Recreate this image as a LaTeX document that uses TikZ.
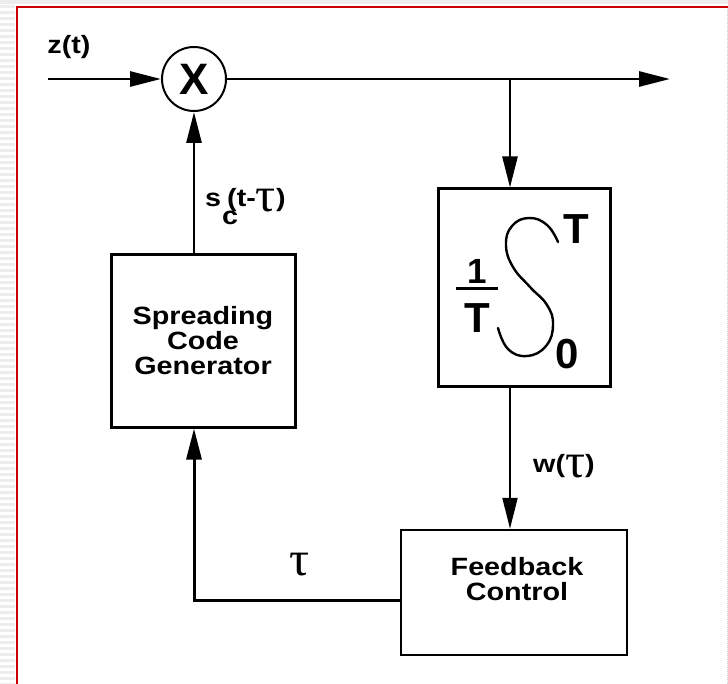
\documentclass[tikz,border=0pt]{standalone}
\usepackage{fontspec}
\setmainfont{Liberation Sans}[FakeStretch=1.15]
\newfontfamily\plainsans{Liberation Sans}
\newfontfamily\grk{Liberation Serif}
\usetikzlibrary{arrows.meta}
\newcommand\mytau{\raisebox{-5pt}{\scalebox{2.0}[1.95]{\mdseries\grk τ}}}
\begin{document}
\begin{tikzpicture}[x=1pt,y=-1pt,
  lbl/.style={font=\bfseries\fontsize{25}{25}\selectfont, inner sep=0pt},
  intf/.style={font=\plainsans\bfseries\fontsize{#1}{#1}\selectfont, inner sep=0pt},
  box/.style={draw, line width=3pt, inner sep=0pt},
  tip/.style={-{Triangle[length=31pt,width=15pt]}},
]
\useasboundingbox (0,0) rectangle (728,684);
% page decoration
\fill[black!7] (0,0) rectangle (728,4);
\foreach \k in {0,...,113} \fill[black!7] (0,{\k*6+5}) rectangle (15,{\k*6+8});
\draw[black!20, densely dotted, line width=1pt] (727,9) -- (727,684);
\draw[red!80!black, line width=2pt] (16.5,684) -- (16.5,7.5) -- (728,7.5);

% blocks
\node[circle, draw, line width=2pt, minimum size=64pt, inner sep=0pt, intf=44] (mul) at (194,79) {X};
\node[box, lbl, minimum width=184pt, minimum height=172pt, align=center] (scg) at (203,341) {Spreading\\Code\\Generator};
\node[box, minimum width=172pt, minimum height=197pt] (intg) at (524,287.5) {};
\node[box, line width=2.5pt, minimum width=226pt, minimum height=125pt] (fb) at (514,592.5) {};
\node[lbl, align=center] (fbtxt) at (517,579) {Feedback\\Control};

% integrator symbol
\node[intf=35] (one) at (477,271) {1};
\node[intf=42] (tden) at (477,318) {T};
\draw[line width=3pt] (456,289) -- (498,289);
\node[intf=42] (tup) at (576,229) {T};
\node[intf=42] (zero) at (567,354) {0};
\draw[line width=2.4pt, line cap=round] plot[smooth, tension=0.75] coordinates
  {(558,242) (547,225) (529,218) (512,226) (506,245) (513,267) (530,287) (547,305) (553,325) (546,346) (527,356) (508,349) (498,328)};

% connectors
\coordinate (in) at (48,79);
\coordinate (out) at (670,79);
\coordinate (br) at (510,79);
\draw[line width=2.8pt, tip] (in) -- (mul.west);
\draw[line width=2.8pt, tip] (mul.east) -- (out);
\draw[line width=2.5pt, tip] (br) -- (br |- intg.north);
\draw[line width=2pt, tip] (intg.south -| br) -- (fb.north -| br);
\draw[line width=3pt, tip] (fb.west |- 0,600) -| (scg.south -| mul);
\draw[line width=2.8pt, tip] (scg.north -| mul) -- (mul.south);

% labels
\node[lbl] (zt) at (69,47) {z(t)};
\node[lbl, anchor=base west] (sc) at (205,207) {s\hspace{1pt}\rlap{\raisebox{-18pt}{c}}\hspace{5pt}(t-\mytau)};
\node[lbl, anchor=base west] (wt) at (533,472) {w(\mytau)};
\node[lbl] (tau) at (300,565) {\mytau};
\end{tikzpicture}
\end{document}
